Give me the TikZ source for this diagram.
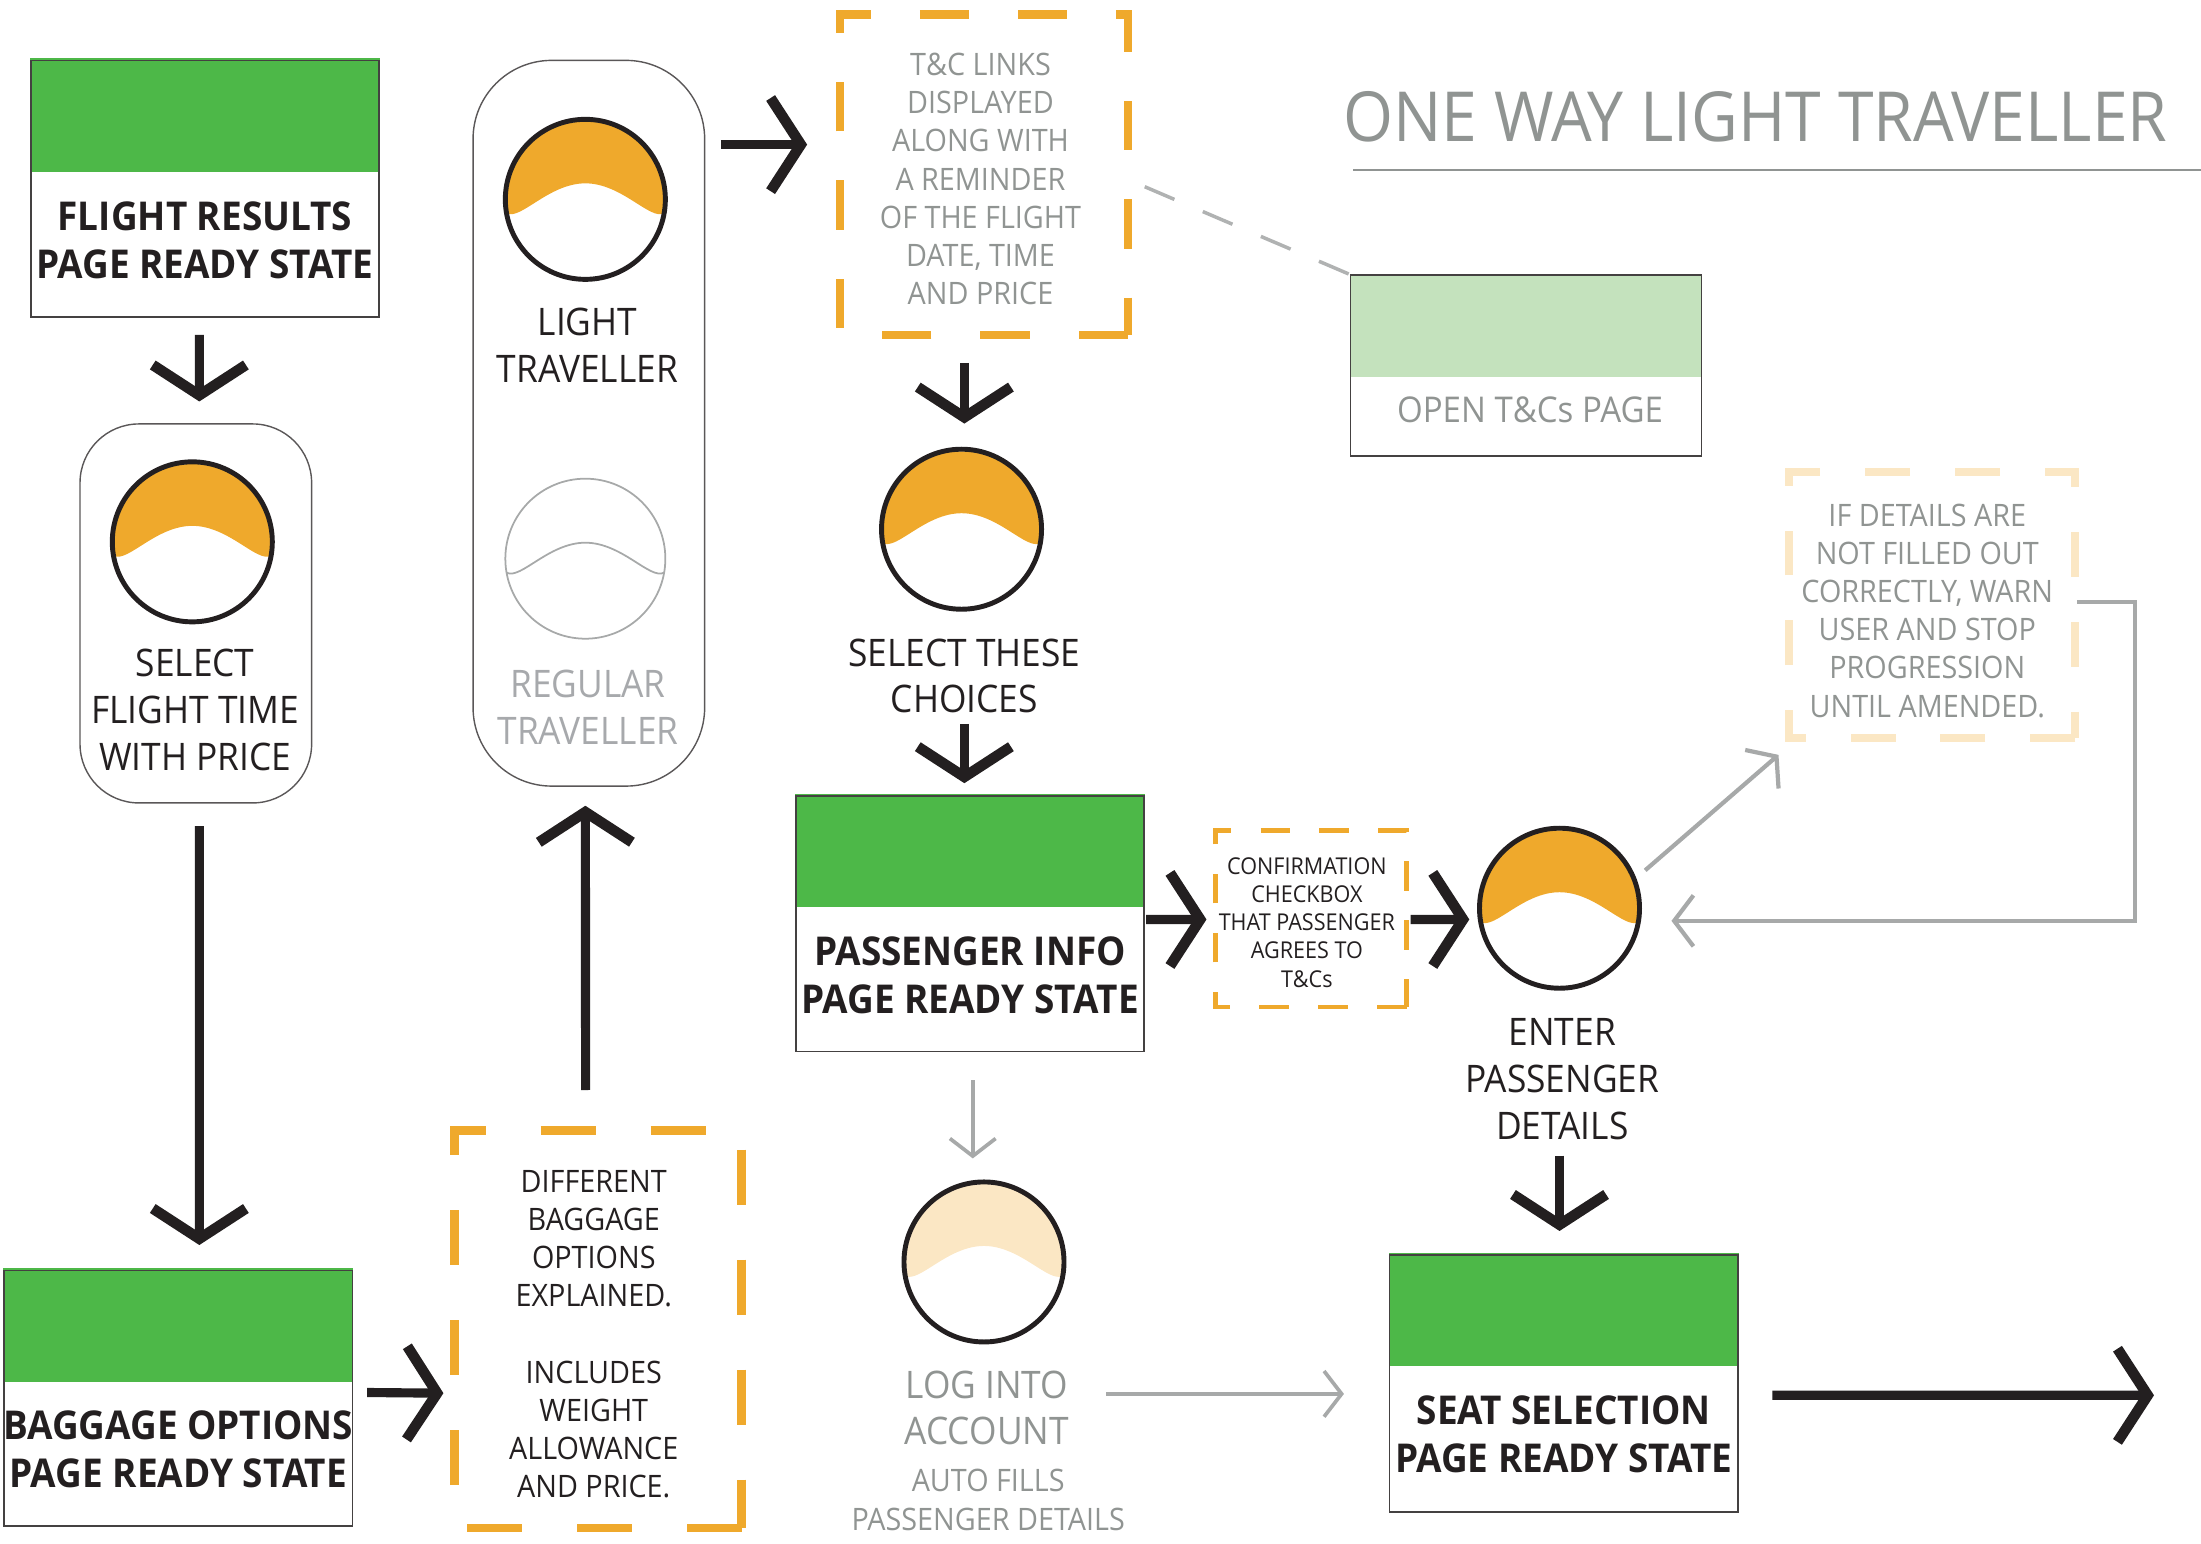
\documentclass[tikz,border=0pt]{standalone}
\usepackage{fontspec}
\setmainfont[FakeStretch=0.93]{Open Sans}
\usetikzlibrary{arrows.meta,calc}
\def\uu{0.14037mm}
\definecolor{ink}{HTML}{231F20}
\definecolor{txtgrey}{HTML}{909492}
\definecolor{fadetxt}{HTML}{A7A9AC}
\definecolor{arrgrey}{HTML}{A7A9A9}
\definecolor{brand}{HTML}{4DB848}
\definecolor{palegreen}{HTML}{C4E2BD}
\definecolor{amber}{HTML}{EFA92C}
\definecolor{paleamber}{HTML}{FBE7C4}
\tikzset{
  x=\uu,y=-\uu,
  pagebox/.style={draw=ink!85,line width=0.45pt,inner sep=0pt,minimum width=248*\uu},
  pillbox/.style={draw=ink!75,line width=0.4pt,inner sep=0pt,minimum width=165*\uu},
  ball/.style={circle,inner sep=0pt,minimum size=114*\uu,draw=ink,line width=1.4pt},
  hole/.style={inner sep=0pt},
  bold/.style={inner sep=0pt,align=center,text=ink,font=\bfseries\fontsize{11.3}{13.6}\selectfont},
  big/.style={inner sep=0pt,align=center,text=ink,font=\fontsize{10.8}{13.35}\selectfont},
  small/.style={inner sep=0pt,align=center,text=ink,font=\fontsize{8.8}{10.87}\selectfont},
  tiny/.style={inner sep=0pt,align=center,text=ink,font=\fontsize{6.6}{8.04}\selectfont},
  heavy/.style={draw=ink,line width=2.6pt,-{Straight Barb[length=8.6pt,width=26.5pt,line width=3pt]}},
  thinarrow/.style={draw=arrgrey,line width=1.05pt,-{Straight Barb[length=5pt,width=13pt,line width=1.05pt]}},
  midarrow/.style={draw=arrgrey,line width=1.2pt,-{Straight Barb[length=5.5pt,width=14.5pt,line width=1.2pt]}},
  dashA/.style={draw=amber,line width=2.4pt,dash pattern=on 35*\uu off 35*\uu},
  dashB/.style={draw=amber,line width=2.5pt,dash pattern=on 39.2*\uu off 39.2*\uu},
  dashC/.style={draw=amber,line width=1.3pt,dash pattern=on 21*\uu off 21*\uu},
  dashD/.style={draw=paleamber,line width=2.3pt,dash pattern=on 32*\uu off 32*\uu},
}
\newcommand\wave{(-56,10) .. controls (-46,15) and (-26,-11.4) .. (0,-11.4) .. controls (26,-11.4) and (46,15) .. (56,10)}
\newcommand\capfill[2]{%
  \begin{scope}
    \clip (#1) circle[radius=55.5*\uu];
    \begin{scope}[shift={(#1)}]
      \fill[#2] \wave -- (60,-60) -- (-60,-60) -- cycle;
    \end{scope}
  \end{scope}}
\newcommand\pagestate[6]{% name, centre x, centre y, height, band height, band colour
  \node[pagebox,minimum height=#4*\uu] (#1) at (#2,#3) {};
  \fill[#6] ($(#1.north west)+(0,-1)$) rectangle ($(#1.north east)+(0,#5)$);
  \node[pagebox,minimum height=#4*\uu] at (#2,#3) {};}
\newcommand\frameit[2]{\draw[#2] (#1.south east) -- (#1.south west) -- (#1.north west) -- (#1.north east) -- (#1.south east);}
\begin{document}
\begin{tikzpicture}
\useasboundingbox (0,0) rectangle (1568,1099.3);
% page boxes
\pagestate{flight}{146}{134.5}{183}{80}{brand}
\pagestate{baggage}{127}{996}{182}{80}{brand}
\pagestate{passenger}{691}{658}{182}{80}{brand}
\pagestate{seat}{1114}{985.5}{183}{80}{brand}
\node[pagebox,minimum width=250*\uu,minimum height=129*\uu] (tcpage) at (1087,260.5) {};
\fill[palegreen] (tcpage.north west) rectangle ($(tcpage.north east)+(0,73)$);
\node[pagebox,minimum width=250*\uu,minimum height=129*\uu] at (1087,260.5) {};
\node[bold] (flightT) at (146,171) {FLIGHT RESULTS\\PAGE READY STATE};
\node[bold] (baggageT) at (127,1032.5) {BAGGAGE OPTIONS\\PAGE READY STATE};
\node[bold] (passengerT) at (691,695) {PASSENGER INFO\\PAGE READY STATE};
\node[bold] (seatT) at (1114,1021.5) {SEAT SELECTION\\PAGE READY STATE};
\node[big,text=txtgrey,font=\fontsize{10.1}{13.35}\selectfont] (tcpageT) at (1090,292) {OPEN T\&Cs PAGE};
% pills
\node[pillbox,minimum height=270*\uu,rounded corners=42*\uu] (selectpill) at (139.5,437) {};
\node[pillbox,minimum height=517*\uu,rounded corners=56*\uu] (travelpill) at (419.5,301.5) {};
% circles
\capfill{137,386}{amber}
\node[ball] (c1) at (137,386) {};
\capfill{417,142}{amber}
\node[ball] (c2) at (417,142) {};
\node[ball,draw=arrgrey,line width=0.5pt] (c3) at (417,398) {};
\begin{scope}[shift={(417,398)}]
  \draw[draw=arrgrey,line width=0.5pt] \wave;
\end{scope}
\capfill{685,377}{amber}
\node[ball] (c4) at (685,377) {};
\capfill{1111,647}{amber}
\node[ball] (c5) at (1111,647) {};
\capfill{701,899}{paleamber}
\node[ball] (c6) at (701,899) {};
% labels
\node[big] (selectT) at (139,506) {SELECT\\FLIGHT TIME\\WITH PRICE};
\node[big] (lightT) at (418.5,246) {LIGHT\\TRAVELLER};
\node[big,text=fadetxt] (regularT) at (419,504) {REGULAR\\TRAVELLER};
\node[big] (theseT) at (687,481.5) {SELECT THESE\\CHOICES};
\node[big] (enterT) at (1113,768.5) {ENTER\\PASSENGER\\DETAILS};
\node[big,text=txtgrey] (logT) at (703,1003) {LOG INTO\\ACCOUNT};
\node[small,text=txtgrey] (autoT) at (704,1068.5) {AUTO FILLS\\PASSENGER DETAILS};
% dashed boxes
\node[hole,minimum width=204*\uu,minimum height=227.2*\uu] (tcbox) at (701,124.4) {};
\frameit{tcbox}{dashA}
\node[small,text=txtgrey] (tcT) at (698.5,127.5) {T\&C LINKS\\DISPLAYED\\ALONG WITH\\A REMINDER\\OF THE FLIGHT\\DATE, TIME\\AND PRICE};
\node[hole,minimum width=203.6*\uu,minimum height=282*\uu] (bagbox) at (426.2,947) {};
\frameit{bagbox}{dashB}
\node[small] (bagT) at (423,950.5) {DIFFERENT\\BAGGAGE\\OPTIONS\\EXPLAINED.\\[10.87pt]INCLUDES\\WEIGHT\\ALLOWANCE\\AND PRICE.};
\node[hole,minimum width=135*\uu,minimum height=125*\uu] (confbox) at (934,654.5) {};
\frameit{confbox}{dashC}
\node[tiny] (confT) at (931,657) {CONFIRMATION\\CHECKBOX\\THAT PASSENGER\\AGREES TO\\T\&Cs};
\node[hole,minimum width=203*\uu,minimum height=188.5*\uu] (warnbox) at (1376.4,431.2) {};
\frameit{warnbox}{dashD}
\node[small,text=txtgrey] (warnT) at (1373,435) {IF DETAILS ARE\\NOT FILLED OUT\\CORRECTLY, WARN\\USER AND STOP\\PROGRESSION\\UNTIL AMENDED.};
% title
\node[inner sep=0pt,text=txtgrey,font=\fontsize{19.65}{24}\selectfont] (title) at (1250.5,83) {ONE WAY LIGHT TRAVELLER};
\coordinate (ruleA) at (964,121);
\coordinate (ruleB) at (1568,121);
\draw[txtgrey,line width=0.75pt] (ruleA) -- (ruleB);
% heavy arrows
\draw[heavy] ($(flight.south)+(-4,12)$) -- ($(selectpill.north)+(2.5,-15.5)$);
\draw[heavy] ($(selectpill.south)+(2.5,16)$) -- ($(baggage.north)+(15,-17.5)$);
\draw[heavy] ($(baggage.east)+(10,-4)$) -- ($(bagbox.west)+(-8,45.5)$);
\draw[heavy] ($(bagbox.north)+(-9,-29)$) -- ($(travelpill.south)+(-2.5,13.5)$);
\draw[heavy] ($(travelpill.east)+(11,-198.5)$) -- ($(tcbox.west)+(-23.5,-21.4)$);
\draw[heavy] ($(tcbox.south)+(-14,20)$) -- ($(c4.north)+(2,-16.5)$);
\draw[heavy] ($(theseT.south)+(0,7)$) -- ($(passenger.north)+(-4,-8.5)$);
\draw[heavy] ($(passenger.east)+(1,-3)$) -- ($(confbox.west)+(-6.5,0.5)$);
\draw[heavy] ($(confbox.east)+(3,0.5)$) -- ($(c5.west)+(-5.5,8)$);
\draw[heavy] ($(enterT.south)+(-2,11)$) -- ($(seat.north)+(-3,-16.5)$);
\coordinate (outEnd) at (1534.5,994);
\draw[heavy] ($(seat.east)+(24,8.5)$) -- (outEnd);
% grey arrows
\draw[thinarrow] ($(passenger.south)+(2,20)$) -- ($(c6.north)+(-8,-15)$);
\draw[thinarrow] ($(logT.east)+(26,-10)$) -- ($(seat.west)+(-32,7.5)$);
\draw[midarrow] ($(c5.center)+(61,-27)$) -- ($(warnbox.south west)+(-7.4,11.8)$);
\draw[midarrow] ($(warnbox.east)+(1.1,-2.2)$) -| (1521,656) -- ($(c5.east)+(21,9)$);
\draw[draw=arrgrey!90,line width=1pt,dash pattern=on 23*\uu off 22*\uu] ($(tcbox.east)+(12,8.6)$) -- (tcpage.north west);
\end{tikzpicture}
\end{document}
